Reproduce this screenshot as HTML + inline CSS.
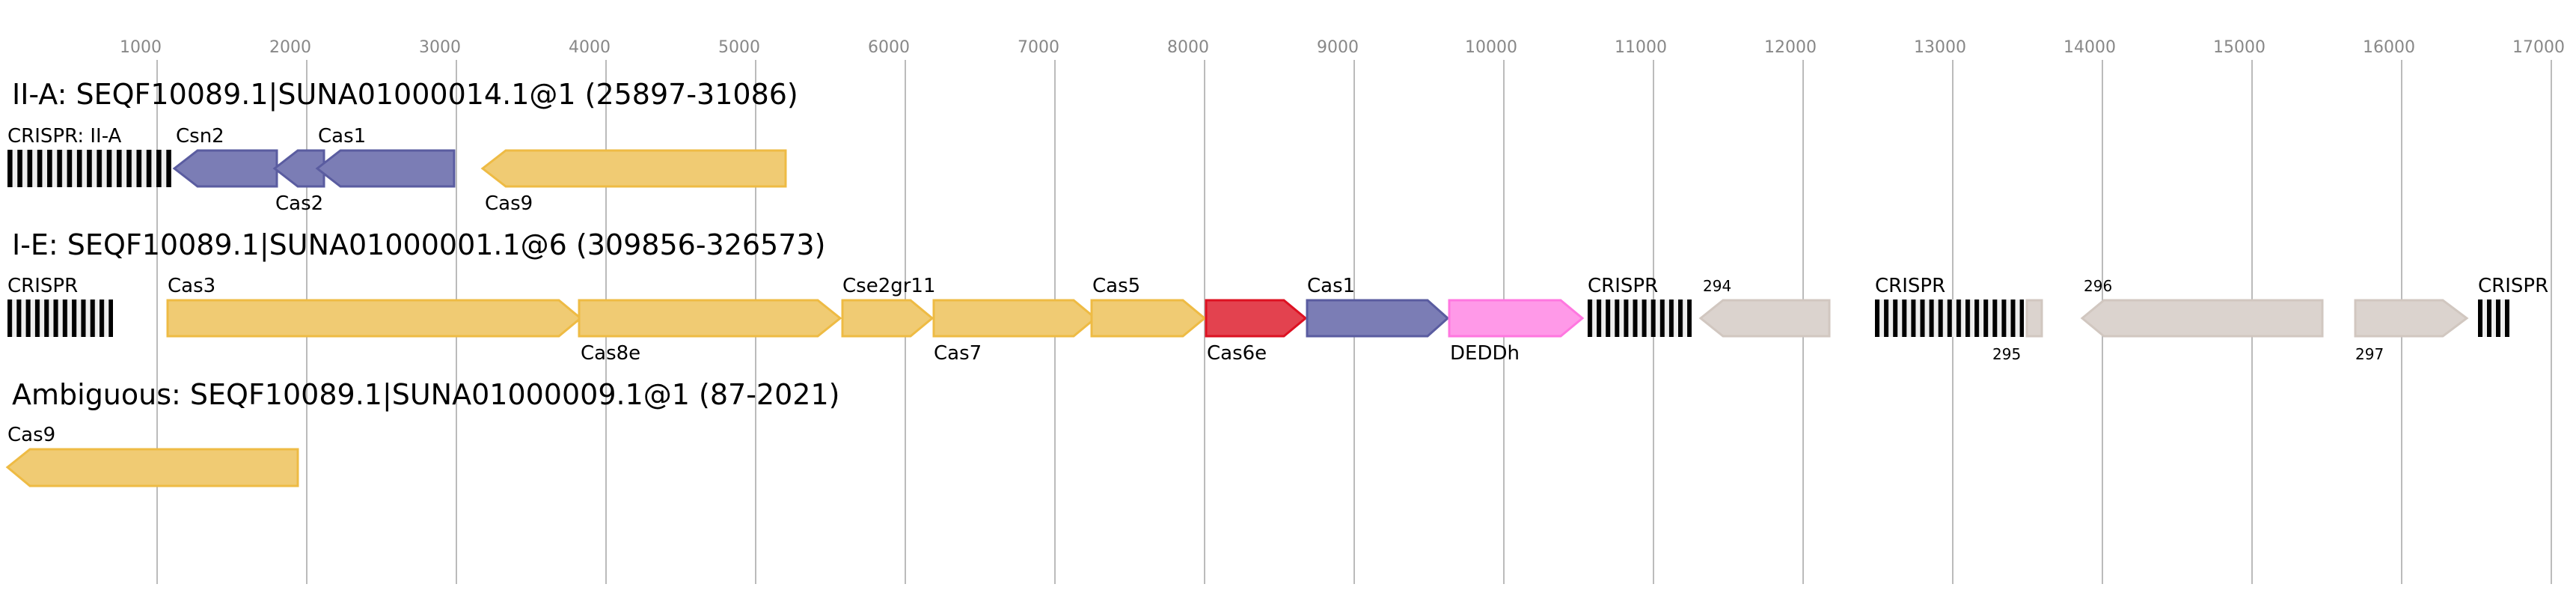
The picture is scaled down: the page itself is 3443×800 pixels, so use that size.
<!DOCTYPE html>
<html><head><meta charset="utf-8"><style>html,body{margin:0;padding:0;background:#fff}svg{display:block}</style></head>
<body>
<svg xmlns="http://www.w3.org/2000/svg" width="3443" height="800" viewBox="0 0 3443 800" font-family="DejaVu Sans, Liberation Sans, sans-serif">
<defs>
<pattern id="p1" patternUnits="userSpaceOnUse" x="10" y="0" width="13.27" height="800"><rect width="6.6" height="800" fill="#000"/></pattern>
<pattern id="p2" patternUnits="userSpaceOnUse" x="10" y="0" width="12.3" height="800"><rect width="6.1" height="800" fill="#000"/></pattern>
<pattern id="p3" patternUnits="userSpaceOnUse" x="2122" y="0" width="12.1" height="800"><rect width="6" height="800" fill="#000"/></pattern>
<pattern id="p4" patternUnits="userSpaceOnUse" x="2506" y="0" width="12.1" height="800"><rect width="6" height="800" fill="#000"/></pattern>
<pattern id="p5" patternUnits="userSpaceOnUse" x="3312" y="0" width="12" height="800"><rect width="6" height="800" fill="#000"/></pattern>
</defs>
<g stroke="#bbb" stroke-width="2">
<line x1="210" y1="80" x2="210" y2="780"/><line x1="410" y1="80" x2="410" y2="780"/><line x1="610" y1="80" x2="610" y2="780"/><line x1="810" y1="80" x2="810" y2="780"/><line x1="1010" y1="80" x2="1010" y2="780"/><line x1="1210" y1="80" x2="1210" y2="780"/><line x1="1410" y1="80" x2="1410" y2="780"/><line x1="1610" y1="80" x2="1610" y2="780"/><line x1="1810" y1="80" x2="1810" y2="780"/><line x1="2010" y1="80" x2="2010" y2="780"/><line x1="2210" y1="80" x2="2210" y2="780"/><line x1="2410" y1="80" x2="2410" y2="780"/><line x1="2610" y1="80" x2="2610" y2="780"/><line x1="2810" y1="80" x2="2810" y2="780"/><line x1="3010" y1="80" x2="3010" y2="780"/><line x1="3210" y1="80" x2="3210" y2="780"/><line x1="3410" y1="80" x2="3410" y2="780"/>
</g>
<g fill="#888" font-size="22" text-anchor="end">
<text x="216" y="70">1000</text><text x="416" y="70">2000</text><text x="616" y="70">3000</text><text x="816" y="70">4000</text><text x="1016" y="70">5000</text><text x="1216" y="70">6000</text><text x="1416" y="70">7000</text><text x="1616" y="70">8000</text><text x="1816" y="70">9000</text><text x="2028" y="70">10000</text><text x="2228" y="70">11000</text><text x="2428" y="70">12000</text><text x="2628" y="70">13000</text><text x="2828" y="70">14000</text><text x="3028" y="70">15000</text><text x="3228" y="70">16000</text><text x="3428" y="70">17000</text>
</g>
<g font-size="38" fill="#000">
<text x="16" y="139">II-A: SEQF10089.1|SUNA01000014.1@1 (25897-31086)</text>
<text x="16" y="340">I-E: SEQF10089.1|SUNA01000001.1@6 (309856-326573)</text>
<text x="16" y="540">Ambiguous: SEQF10089.1|SUNA01000009.1@1 (87-2021)</text>
</g>
<g stroke-width="3" stroke-linejoin="miter">
<rect x="10" y="200" width="219" height="50" fill="#eee"/><rect x="10" y="200" width="219" height="50" fill="url(#p1)"/>
<polygon points="233,225 264,201 370,201 370,249 264,249" fill="#7b7db5" stroke="#5a5ca0"/>
<polygon points="367,225 398,201 433,201 433,249 398,249" fill="#7b7db5" stroke="#5a5ca0"/>
<polygon points="424,225 455,201 607,201 607,249 455,249" fill="#7b7db5" stroke="#5a5ca0"/>
<polygon points="645,225 676,201 1050,201 1050,249 676,249" fill="#f0cb73" stroke="#eebb44"/>
<rect x="10" y="400" width="141" height="50" fill="#eee"/><rect x="10" y="400" width="141" height="50" fill="url(#p2)"/>
<polygon points="224,401 747,401 776,425 747,449 224,449" fill="#f0cb73" stroke="#eebb44"/>
<polygon points="774,401 1093,401 1123,425 1093,449 774,449" fill="#f0cb73" stroke="#eebb44"/>
<polygon points="1126,401 1217,401 1246,425 1217,449 1126,449" fill="#f0cb73" stroke="#eebb44"/>
<polygon points="1248,401 1435,401 1464,425 1435,449 1248,449" fill="#f0cb73" stroke="#eebb44"/>
<polygon points="1459,401 1581,401 1610,425 1581,449 1459,449" fill="#f0cb73" stroke="#eebb44"/>
<polygon points="1612,401 1716,401 1745,425 1716,449 1612,449" fill="#e3424f" stroke="#dd1122"/>
<polygon points="1747,401 1908,401 1935,425 1908,449 1747,449" fill="#7b7db5" stroke="#5a5ca0"/>
<polygon points="1937,401 2086,401 2115,425 2086,449 1937,449" fill="#ff99e8" stroke="#ff77e0"/>
<rect x="2122" y="400" width="139" height="50" fill="#eee"/><rect x="2122" y="400" width="139" height="50" fill="url(#p3)"/>
<polygon points="2273,425 2303,401 2445,401 2445,449 2303,449" fill="#dbd3ce" stroke="#d1c7c0"/>
<rect x="2506" y="400" width="199" height="50" fill="#eee"/><rect x="2506" y="400" width="199" height="50" fill="url(#p4)"/>
<rect x="2709" y="401" width="20" height="48" fill="#dbd3ce" stroke="#d1c7c0"/>
<polygon points="2783,425 2812,401 3104,401 3104,449 2812,449" fill="#dbd3ce" stroke="#d1c7c0"/>
<polygon points="3148,401 3265,401 3297,425 3265,449 3148,449" fill="#dbd3ce" stroke="#d1c7c0"/>
<rect x="3312" y="400" width="42" height="50" fill="#eee"/><rect x="3312" y="400" width="42" height="50" fill="url(#p5)"/>
<polygon points="10,624 40,600 398,600 398,649 40,649" fill="#f0cb73" stroke="#eebb44"/>
</g>
<g font-size="26" fill="#000">
<text x="10" y="190">CRISPR: II-A</text><text x="235" y="190">Csn2</text><text x="425" y="190">Cas1</text>
<text x="368" y="280">Cas2</text><text x="648" y="280">Cas9</text>
<text x="10" y="390">CRISPR</text><text x="224" y="390">Cas3</text><text x="1126" y="390">Cse2gr11</text><text x="1460" y="390">Cas5</text><text x="1747" y="390">Cas1</text><text x="2122" y="390">CRISPR</text><text x="2506" y="390">CRISPR</text><text x="3312" y="390">CRISPR</text>
<text x="776" y="480">Cas8e</text><text x="1248" y="480">Cas7</text><text x="1613" y="480">Cas6e</text><text x="1938" y="480">DEDDh</text>
<text x="10" y="589">Cas9</text>
</g>
<g font-size="20" fill="#000">
<text x="2276" y="389">294</text><text x="2785" y="389">296</text>
<text x="2663" y="480">295</text><text x="3148" y="480">297</text>
</g>
</svg>
</body></html>
